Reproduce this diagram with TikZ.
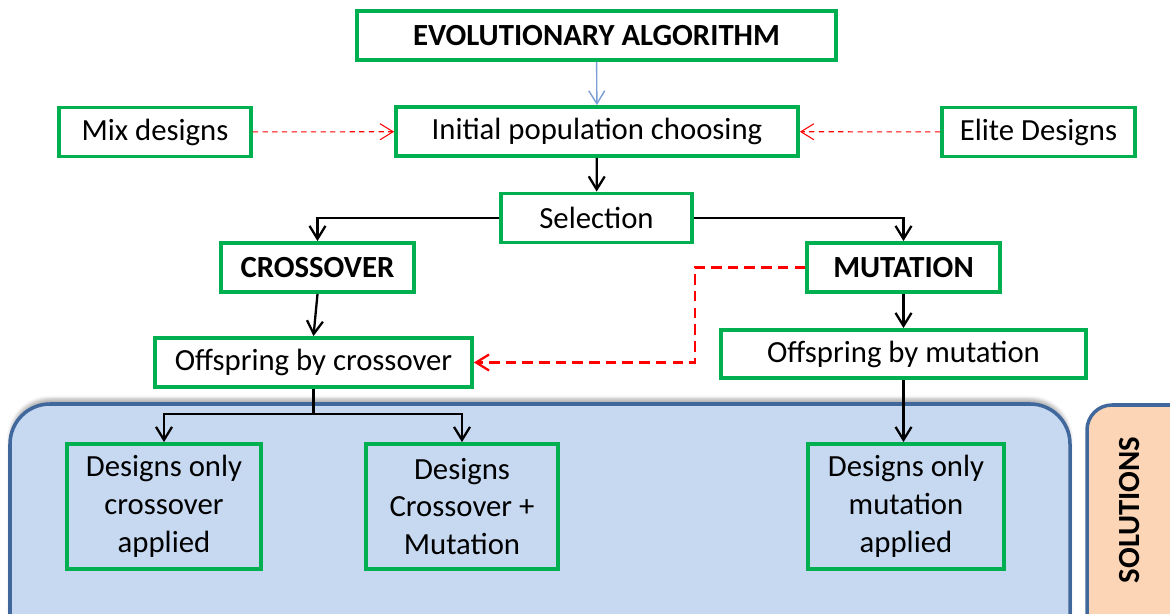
\documentclass[tikz,border=0pt]{standalone}
\usepackage{fontspec}
\setmainfont{Carlito}
\usetikzlibrary{arrows.meta,shadows.blur}
\definecolor{boxgreen}{HTML}{00B050}
\definecolor{solfill}{HTML}{C6D9F1}
\definecolor{solline}{HTML}{41689C}
\definecolor{peach}{HTML}{FBD5B5}
\definecolor{linkblue}{HTML}{7C9ED4}
\begin{document}
\begin{tikzpicture}[x=0.02cm,y=-0.02cm,
	font=\fontsize{17.5}{21.6}\selectfont,
	stepbox/.style={draw=boxgreen,line width=2.2pt,fill=white,inner sep=0pt,minimum height=0.98cm,align=center},
	leafbox/.style={stepbox,fill=none,minimum height=2.5cm},
	boldtext/.style={font=\fontsize{17.5}{21.6}\selectfont\bfseries},
	arr/.style={-{Straight Barb[length=2.6mm,width=3.2mm]},line width=1.3pt},
	redarr/.style={-{Straight Barb[length=2.6mm,width=3.2mm]},red}]
	\clip (0,0) rectangle (1170,614);
	% solution areas
	\draw[solline,line width=2pt,fill=solfill,rounded corners=0.8cm,
	blur shadow={shadow xshift=0pt,shadow yshift=3pt,shadow opacity=30}]
	(10,404) rectangle (1070,660);
	\draw[solline,line width=2pt,fill=peach,rounded corners=0.5cm]
	(1087,405) rectangle (1210,660);
	\node[rotate=90,boldtext] (sol) at (1130,510) {SOLUTIONS};
	% steps
	\node[stepbox,boldtext,minimum width=9.58cm] (ea) at (596.5,35.5) {EVOLUTIONARY ALGORITHM};
	\node[stepbox,minimum width=8.04cm] (init) at (597,131.5) {Initial population choosing};
	\node[stepbox,minimum width=3.84cm] (mix) at (155,132) {Mix designs};
	\node[stepbox,minimum width=3.86cm] (elite) at (1038.5,132) {Elite Designs};
	\node[stepbox,minimum width=3.82cm] (sel) at (596.5,218) {Selection};
	\node[stepbox,boldtext,minimum width=3.86cm] (cross) at (317.5,267.5) {CROSSOVER};
	\node[stepbox,boldtext,minimum width=3.86cm] (mut) at (903.5,267.5) {MUTATION};
	\node[stepbox,minimum width=6.34cm] (offc) at (313.5,362.5) {Offspring by crossover};
	\node[stepbox,minimum width=7.30cm,minimum height=0.96cm] (offm) at (903.5,354) {Offspring by mutation};
	\node[leafbox,minimum width=3.88cm] (onlyc) at (164,506.5) {Designs only\\crossover\\applied};
	\node[leafbox,minimum width=3.84cm] (both) at (462,506.5) {Designs\\Crossover +\\Mutation};
	\node[leafbox,minimum width=3.92cm] (onlym) at (906,506.5) {Designs only\\mutation\\applied};
	% links
	\draw[-{Straight Barb[length=2.6mm,width=3.2mm]},linkblue,line width=0.8pt] (ea) -- (init);
	\draw[redarr,line width=0.6pt,dash pattern=on 3pt off 2.5pt] (mix) -- (init);
	\draw[redarr,line width=0.6pt,dash pattern=on 3pt off 2.5pt] (elite) -- (init);
	\draw[arr] (init) -- (sel);
	\draw[arr] (sel.west) -| (cross.north);
	\draw[arr] (sel.east) -| (mut.north);
	\draw[arr] (cross.south) -- (offc.north);
	\draw[arr] (mut) -- (offm);
	\draw[redarr,line width=1.3pt,dash pattern=on 6pt off 3.5pt] (mut.west) -- (695,267.5) |- (offc.east);
	\coordinate (fork) at (313.5,414);
	\draw[line width=1.3pt] (offc.south) -- (fork);
	\draw[arr] (fork) -| (onlyc.north);
	\draw[arr] (fork) -| (both.north);
	\draw[arr] (offm.south) -- (onlym.north -| offm.south);
\end{tikzpicture}
\end{document}
